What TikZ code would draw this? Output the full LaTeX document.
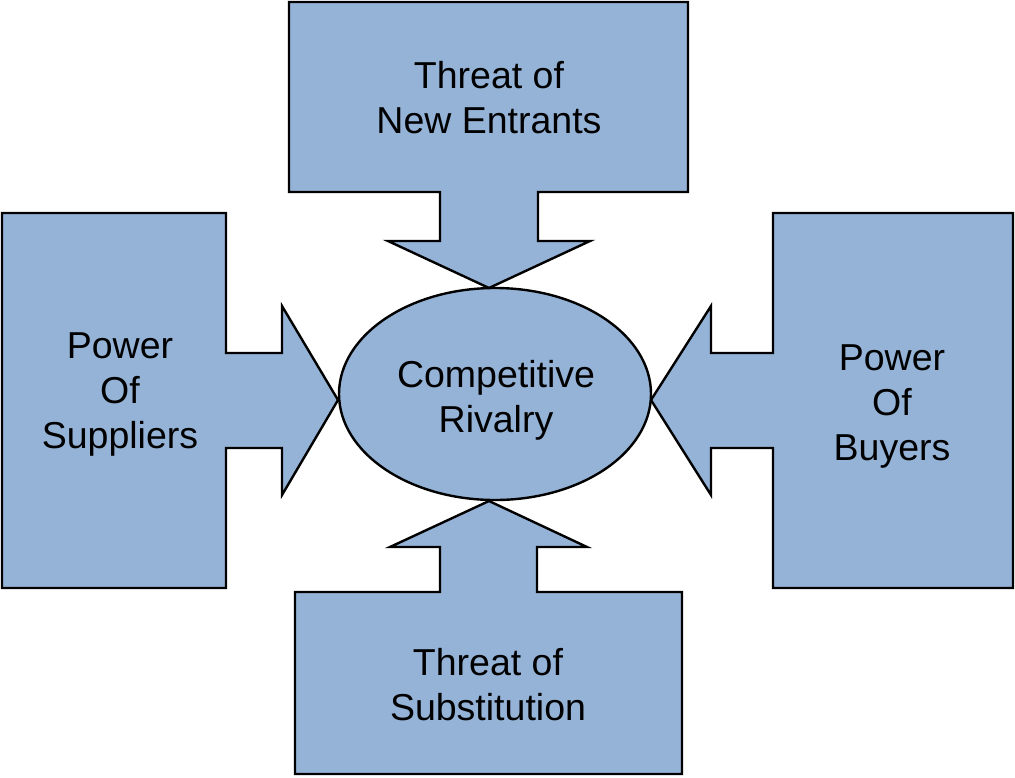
\documentclass[tikz,border=0pt]{standalone}
\usepackage{fontspec}
\setmainfont{Liberation Sans}
\definecolor{boxblue}{RGB}{149,179,215}
\begin{document}
\begin{tikzpicture}[x=1pt,y=-1pt,
  shapebox/.style={fill=boxblue,draw=black,line width=2.4pt},
  lbl/.style={align=center,font=\fontsize{37.5}{45}\selectfont,inner sep=0pt}]
\useasboundingbox (0,0) rectangle (1015,777);
% top: Threat of New Entrants
\draw[shapebox] (289,2) -- (688,2) -- (688,192) -- (538,192) -- (538,241) -- (590,241) -- (489,288) -- (388,241) -- (440,241) -- (440,192) -- (289,192) -- cycle;
% left: Power Of Suppliers
\draw[shapebox] (2,213) -- (226,213) -- (226,353) -- (282,353) -- (282,306) -- (338,400) -- (282,495) -- (282,448) -- (226,448) -- (226,588) -- (2,588) -- cycle;
% right: Power Of Buyers
\draw[shapebox] (1013,213) -- (773,213) -- (773,353) -- (711,353) -- (711,306) -- (651,400) -- (711,495) -- (711,448) -- (773,448) -- (773,588) -- (1013,588) -- cycle;
% bottom: Threat of Substitution
\draw[shapebox] (295,774) -- (682,774) -- (682,592) -- (537,592) -- (537,547) -- (587,547) -- (489,501) -- (390,547) -- (440,547) -- (440,592) -- (295,592) -- cycle;
% centre ellipse
\draw[shapebox] (495,394) ellipse [x radius=156, y radius=106];
\node[lbl] (entrants) at (489,98) {Threat of\\New Entrants};
\node[lbl] (suppliers) at (120,394) {Power\\Of\\Suppliers};
\node[lbl] (buyers) at (892,406) {Power\\Of\\Buyers};
\node[lbl] (subst) at (488,685) {Threat of\\Substitution};
\node[lbl] (rivalry) at (496,400) {Competitive\\Rivalry};
\end{tikzpicture}
\end{document}
